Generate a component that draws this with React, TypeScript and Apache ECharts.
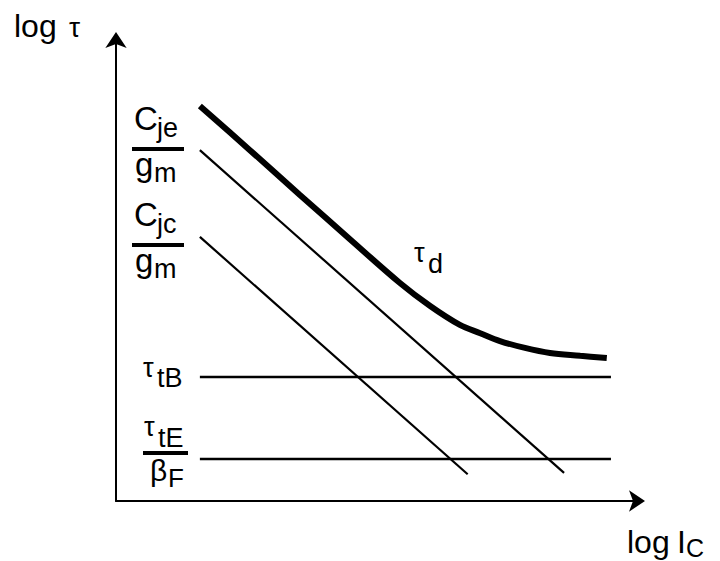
import React, { useEffect, useRef } from "react";
import * as echarts from "echarts";

// Data (abstract log units)
const tauDX = [1.61, 2.57, 3.53, 4.49, 5.45, 6.03, 6.6, 6.99, 7.37, 7.85, 8.33, 8.91, 9.42];
const tauDY = [8.57, 7.61, 6.64, 5.68, 4.73, 4.23, 3.82, 3.64, 3.47, 3.32, 3.21, 3.15, 3.1];
const cjeX = [1.61, 8.6];
const cjeY = [7.61, 0.61];
const cjcX = [1.61, 6.75];
const cjcY = [5.73, 0.58];
const ttbX = [1.61, 9.5];
const ttbY = [2.69, 2.69];
const tteX = [1.61, 9.5];
const tteY = [0.91, 0.91];

const FONT = "'Liberation Sans', Arial, Helvetica, sans-serif";

function zip(xs: number[], ys: number[]) {
  return xs.map((x, i) => [x, ys[i]]);
}

function txt(x: number, baseline: number, text: string, size: number) {
  return {
    type: "text",
    x,
    y: baseline - 0.3465 * size,
    silent: true,
    style: {
      text,
      fontSize: size,
      fontFamily: FONT,
      fill: "#000",
      align: "left",
      verticalAlign: "middle",
    },
  };
}

function bar(x: number, y: number, w: number, h: number) {
  return {
    type: "rect",
    shape: { x, y, width: w, height: h },
    silent: true,
    style: { fill: "#000" },
  };
}

export default function App() {
  const ref = useRef<HTMLDivElement>(null);
  useEffect(() => {
    if (!ref.current) return;
    const chart = echarts.init(ref.current, null, { renderer: "svg" });
    const line = (data: number[][], width: number, smooth: any = false) => ({
      type: "line",
      data,
      showSymbol: false,
      smooth,
      silent: true,
      lineStyle: { color: "#000", width, cap: "butt" },
    });
    const axisCommon = {
      type: "value",
      min: 0,
      max: 10,
      axisTick: { show: false },
      axisLabel: { show: false },
      splitLine: { show: false },
      axisLine: {
        show: true,
        onZero: false,
        symbol: ["none", "arrow"],
        symbolSize: [16, 16],
        symbolOffset: [0, 8],
        lineStyle: { color: "#000", width: 2 },
      },
    };
    chart.setOption({
      animation: false,
      backgroundColor: "#fff",
      grid: { left: 116, right: 83, top: 40, bottom: 60 },
      xAxis: { ...axisCommon },
      yAxis: { ...axisCommon },
      series: [
        line(zip(tauDX, tauDY), 6, 0.35),
        line(zip(cjeX, cjeY), 2.2),
        line(zip(cjcX, cjcY), 2.2),
        line(zip(ttbX, ttbY), 2.5),
        line(zip(tteX, tteY), 2.5),
      ],
      graphic: [
        txt(14, 37, "log", 32),
        txt(69, 37, "τ", 28),
        // Cje / gm
        txt(134, 130, "C", 33),
        txt(157, 137, "je", 27),
        bar(132, 147, 52, 4),
        txt(135, 176, "g", 33),
        txt(154, 182, "m", 27),
        // Cjc / gm
        txt(134, 226, "C", 33),
        txt(157, 233, "jc", 27),
        bar(132, 243, 52, 4),
        txt(135, 272, "g", 33),
        txt(154, 278, "m", 27),
        // tauTB
        txt(143, 377, "τ", 27),
        txt(157, 387, "tB", 27),
        // tauTE / betaF
        txt(144, 436, "τ", 27),
        txt(158, 447, "tE", 27),
        bar(143, 451, 45, 4),
        txt(150, 481, "β", 30),
        txt(168, 487, "F", 26),
        // tau d
        txt(414, 262, "τ", 27),
        txt(428, 273, "d", 27),
        // log Ic
        txt(627, 553, "log", 32),
        txt(677, 553, "I", 32),
        txt(686, 557, "C", 25),
      ],
    });
    return () => chart.dispose();
  }, []);
  return (
    <div
      ref={ref}
      style={{ position: "fixed", left: 0, top: 0, width: 720, height: 561 }}
    />
  );
}
